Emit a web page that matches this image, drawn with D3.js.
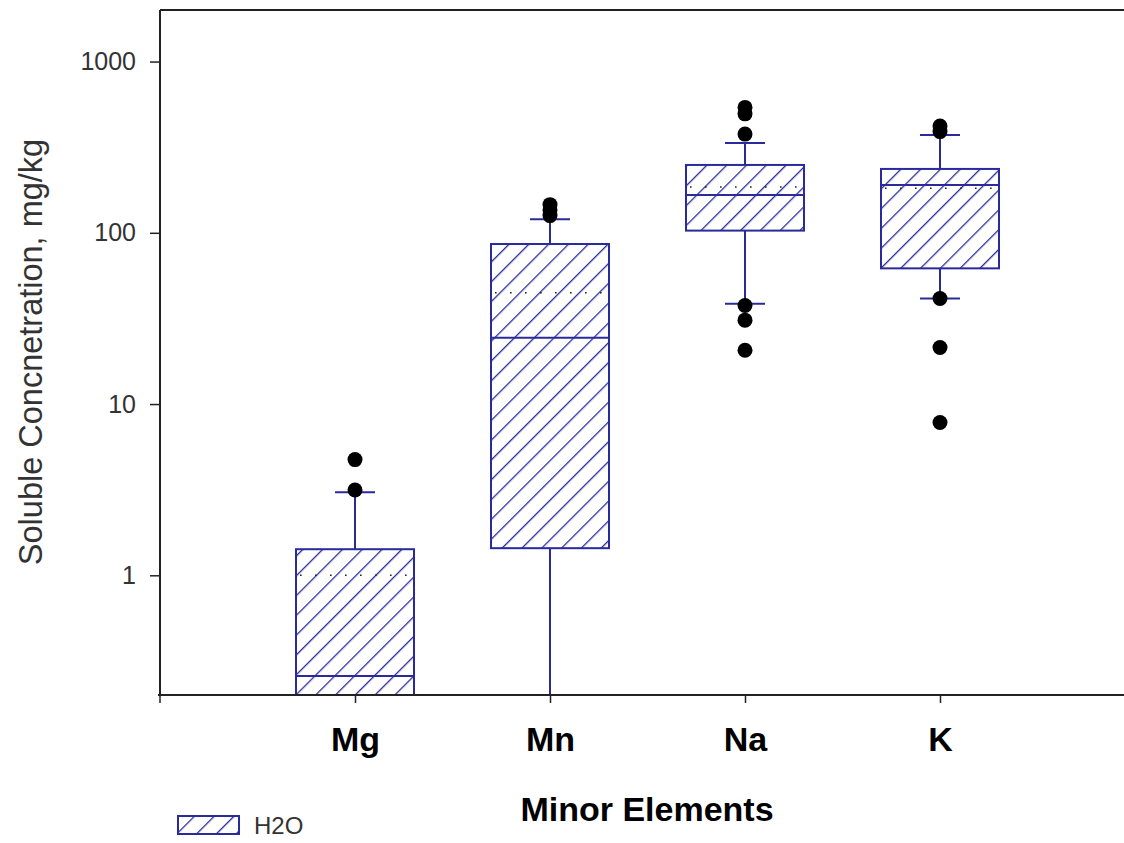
<!DOCTYPE html>
<html>
<head>
<meta charset="utf-8">
<script src="https://cdn.jsdelivr.net/npm/d3@7"></script>
<style>
  body { margin: 0; background: #fff; }
  text { font-family: "Liberation Sans", Arial, sans-serif; }
</style>
</head>
<body>
<div id="chart"></div>
<script>
// box plot values (mg/kg)
const categories = ["Mg", "Mn", "Na", "K"];
const q1 = [0.1, 1.44, 103, 62];
const median = [0.258, 24.4, 166, 190];
const q3 = [1.42, 86, 249, 236];
const mean = [1.0, 44.7, 185, 182];
const whiskerLow = [0.05, 0.05, 38.5, 41.3];
const whiskerHigh = [3.05, 120, 334, 372];
const outliers = [
    [4.74, 3.15],
    [146, 136, 126],
    [540, 495, 377, 37.6, 30.9, 20.6],
    [420, 390, 41.3, 21.4, 7.8]
];
const yTicks = [1, 10, 100, 1000];

const W = 1124, H = 843;
const plotLeft = 160, plotTop = 10, plotRight = 1135, plotBottom = 695;
const navy = "#2a2a9c";

const svg = d3.select("#chart")
    .append("svg")
    .attr("width", W)
    .attr("height", H);

const defs = svg.append("defs");
const hatch = defs.append("pattern")
    .attr("id", "hatch")
    .attr("patternUnits", "userSpaceOnUse")
    .attr("width", 14)
    .attr("height", 14)
    .attr("patternTransform", "rotate(45)");
hatch.append("line")
    .attr("x1", 0).attr("y1", 0)
    .attr("x2", 0).attr("y2", 14)
    .attr("stroke", navy)
    .attr("stroke-width", 2.6);

defs.append("clipPath").attr("id", "plotClip")
    .append("rect")
    .attr("x", plotLeft).attr("y", plotTop)
    .attr("width", W - plotLeft).attr("height", plotBottom - plotTop);

const x = d3.scalePoint()
    .domain(categories)
    .range([plotLeft, plotRight])
    .padding(1);

const y = d3.scaleLog()
    .domain([0.2, 2000])
    .range([plotBottom, plotTop]);

const boxW = 118, capW = 40;

const plot = svg.append("g").attr("clip-path", "url(#plotClip)");

const groups = plot.selectAll(".box")
    .data(categories)
    .enter()
    .append("g")
    .attr("class", "box");

// whiskers
groups.append("line")
    .attr("x1", d => x(d)).attr("x2", d => x(d))
    .attr("y1", (d, i) => y(q3[i])).attr("y2", (d, i) => y(whiskerHigh[i]))
    .attr("stroke", navy).attr("stroke-width", 2);
groups.append("line")
    .attr("x1", d => x(d)).attr("x2", d => x(d))
    .attr("y1", (d, i) => y(q1[i])).attr("y2", (d, i) => y(whiskerLow[i]))
    .attr("stroke", navy).attr("stroke-width", 2);
groups.append("line")
    .attr("x1", d => x(d) - capW / 2).attr("x2", d => x(d) + capW / 2)
    .attr("y1", (d, i) => y(whiskerHigh[i])).attr("y2", (d, i) => y(whiskerHigh[i]))
    .attr("stroke", navy).attr("stroke-width", 2);
groups.append("line")
    .attr("x1", d => x(d) - capW / 2).attr("x2", d => x(d) + capW / 2)
    .attr("y1", (d, i) => y(whiskerLow[i])).attr("y2", (d, i) => y(whiskerLow[i]))
    .attr("stroke", navy).attr("stroke-width", 2);

// boxes
groups.append("rect")
    .attr("x", d => x(d) - boxW / 2)
    .attr("width", boxW)
    .attr("y", (d, i) => y(q3[i]))
    .attr("height", (d, i) => y(q1[i]) - y(q3[i]))
    .attr("fill", "#fff");
groups.append("rect")
    .attr("x", d => x(d) - boxW / 2)
    .attr("width", boxW)
    .attr("y", (d, i) => y(q3[i]))
    .attr("height", (d, i) => y(q1[i]) - y(q3[i]))
    .attr("fill", "url(#hatch)")
    .attr("stroke", navy)
    .attr("stroke-width", 2);

// median
groups.append("line")
    .attr("x1", d => x(d) - boxW / 2).attr("x2", d => x(d) + boxW / 2)
    .attr("y1", (d, i) => y(median[i])).attr("y2", (d, i) => y(median[i]))
    .attr("stroke", navy).attr("stroke-width", 2);

// mean (dotted)
groups.append("line")
    .attr("x1", d => x(d) - boxW / 2 + 4).attr("x2", d => x(d) + boxW / 2 - 4)
    .attr("y1", (d, i) => y(mean[i])).attr("y2", (d, i) => y(mean[i]))
    .attr("stroke", "#222").attr("stroke-width", 1.6)
    .attr("stroke-dasharray", "1.6,13.4");

// outliers
groups.selectAll(".out")
    .data((d, i) => outliers[i].map(v => ({ cat: d, v: v })))
    .enter()
    .append("circle")
    .attr("class", "out")
    .attr("cx", d => x(d.cat))
    .attr("cy", d => y(d.v))
    .attr("r", 7.5)
    .attr("fill", "#000");

// frame: top line
svg.append("line")
    .attr("x1", plotLeft).attr("x2", W)
    .attr("y1", plotTop).attr("y2", plotTop)
    .attr("stroke", "#222").attr("stroke-width", 2);

// y axis
const yAxis = svg.append("g")
    .attr("transform", `translate(${plotLeft},0)`)
    .call(d3.axisLeft(y).tickValues(yTicks).tickFormat(d3.format("d")).tickSize(10).tickPadding(14));
yAxis.select(".domain").remove();
yAxis.append("line")
    .attr("x1", 0).attr("x2", 0)
    .attr("y1", plotTop).attr("y2", plotBottom)
    .attr("stroke", "#222").attr("stroke-width", 2);
yAxis.selectAll(".tick line").attr("stroke", "#222").attr("stroke-width", 1.5);
yAxis.selectAll(".tick text")
    .attr("font-size", 25)
    .attr("fill", "#333")
    .style("font-family", "'Liberation Sans', Arial, sans-serif");

// x axis
const xAxis = svg.append("g")
    .attr("transform", `translate(0,${plotBottom})`)
    .call(d3.axisBottom(x).tickSize(8).tickPadding(24));
xAxis.select(".domain").remove();
xAxis.append("line")
    .attr("x1", plotLeft - 2).attr("x2", W)
    .attr("y1", 0).attr("y2", 0)
    .attr("stroke", "#222").attr("stroke-width", 2);
xAxis.append("line")
    .attr("x1", plotLeft).attr("x2", plotLeft)
    .attr("y1", 0).attr("y2", 8)
    .attr("stroke", "#222").attr("stroke-width", 1.5);
xAxis.selectAll(".tick line").attr("stroke", "#222").attr("stroke-width", 1.5);
xAxis.selectAll(".tick text")
    .attr("font-size", 34)
    .attr("font-weight", "bold")
    .attr("fill", "#000")
    .style("font-family", "'Liberation Sans', Arial, sans-serif");

// axis titles
svg.append("text")
    .attr("transform", "translate(42,352) rotate(-90)")
    .attr("text-anchor", "middle")
    .attr("font-size", 32.5)
    .attr("fill", "#333")
    .text("Soluble Concnetration, mg/kg");

svg.append("text")
    .attr("x", 647)
    .attr("y", 821)
    .attr("text-anchor", "middle")
    .attr("font-size", 34)
    .attr("font-weight", "bold")
    .attr("fill", "#000")
    .text("Minor Elements");

// legend
svg.append("rect")
    .attr("x", 178).attr("y", 816)
    .attr("width", 61).attr("height", 18)
    .attr("fill", "url(#hatch)")
    .attr("stroke", navy)
    .attr("stroke-width", 2);
svg.append("text")
    .attr("x", 254).attr("y", 834)
    .attr("font-size", 24)
    .attr("fill", "#333")
    .text("H2O");
</script>
</body>
</html>
